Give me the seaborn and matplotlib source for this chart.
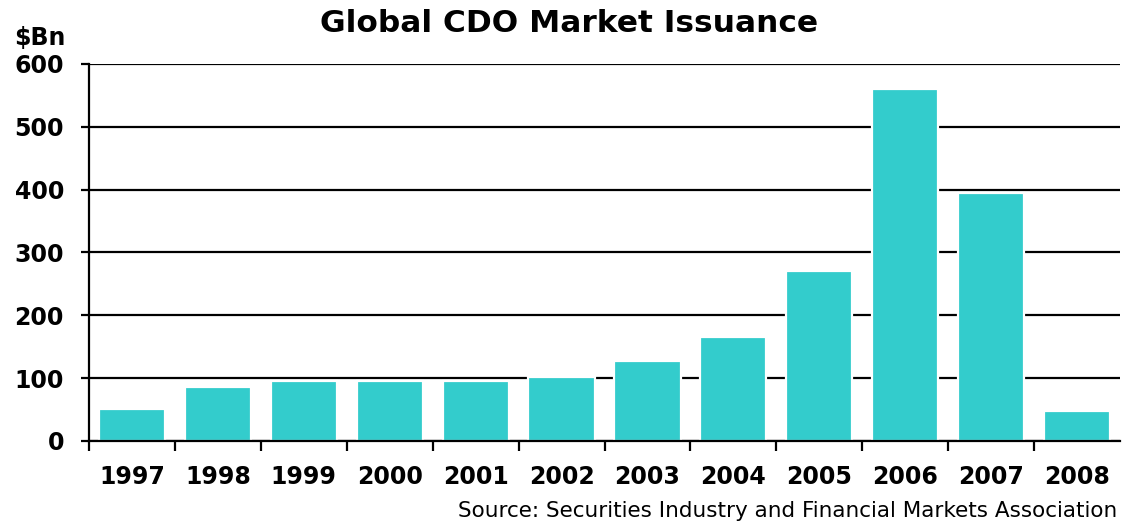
import matplotlib
matplotlib.use("Agg")
import matplotlib.pyplot as plt
import seaborn as sns
import pandas as pd
import numpy as np

# Global CDO issuance by year, $Bn
years = ["1997", "1998", "1999", "2000", "2001", "2002",
         "2003", "2004", "2005", "2006", "2007", "2008"]
issuance = [51, 86, 96, 96, 96, 102, 127, 165, 271, 561, 394, 48]
y_ticks = [0, 100, 200, 300, 400, 500, 600]

sns.set_theme(style="white")
plt.rcParams["font.family"] = ["DejaVu Sans"]
plt.rcParams["text.color"] = "black"
plt.rcParams["xtick.color"] = "black"
plt.rcParams["ytick.color"] = "black"
plt.rcParams["xtick.labelcolor"] = "black"
plt.rcParams["ytick.labelcolor"] = "black"

df = pd.DataFrame({"year": years, "issuance": issuance})

fig = plt.figure(figsize=(11.22, 5.23), dpi=100)
ax = fig.add_axes([89 / 1122, 82 / 523, (1120 - 89) / 1122, (441 - 64) / 523])

sns.barplot(data=df, x="year", y="issuance", order=years, color="#33CCCC",
            saturation=1, width=0.77, edgecolor="white", linewidth=1.6,
            zorder=3, ax=ax)

ax.set_xlim(-0.5, len(years) - 0.5)
ax.set_ylim(0, 600)
ax.set_yticks(y_ticks)
ax.set_yticklabels([str(v) for v in y_ticks], fontsize=17, fontweight="bold")
ax.yaxis.grid(True, color="black", linewidth=1.6, zorder=1)
ax.set_axisbelow(True)

# year labels centred under each bar, tick marks on the category boundaries
ax.set_xticks(range(len(years)))
ax.set_xticklabels(years, fontsize=17, fontweight="bold")
ax.tick_params(axis="x", which="major", length=0, pad=17)
ax.set_xticks(np.arange(-0.5, len(years) - 1, 1.0), minor=True)
ax.tick_params(axis="x", which="minor", length=7, width=1.6, color="black",
               direction="out", bottom=True)
ax.tick_params(axis="y", length=6, width=1.6, color="black", direction="out",
               left=True, pad=12)

for side in ["top", "right"]:
    ax.spines[side].set_visible(False)
for side in ["left", "bottom"]:
    ax.spines[side].set_color("black")
    ax.spines[side].set_linewidth(1.6)
    ax.spines[side].set_zorder(4)

ax.set_xlabel("")
ax.set_ylabel("")

fig.text(569 / 1122, 1 - 24 / 523, "Global CDO Market Issuance",
         ha="center", va="center", fontsize=22.5, fontweight="heavy")
fig.text(14 / 1122, 1 - 38 / 523, "$Bn", ha="left", va="center",
         fontsize=17, fontweight="bold")
fig.text(1117 / 1122, 1 - 511 / 523,
         "Source: Securities Industry and Financial Markets Association",
         ha="right", va="center", fontsize=15.5)

fig.savefig("out.png", dpi=100)
